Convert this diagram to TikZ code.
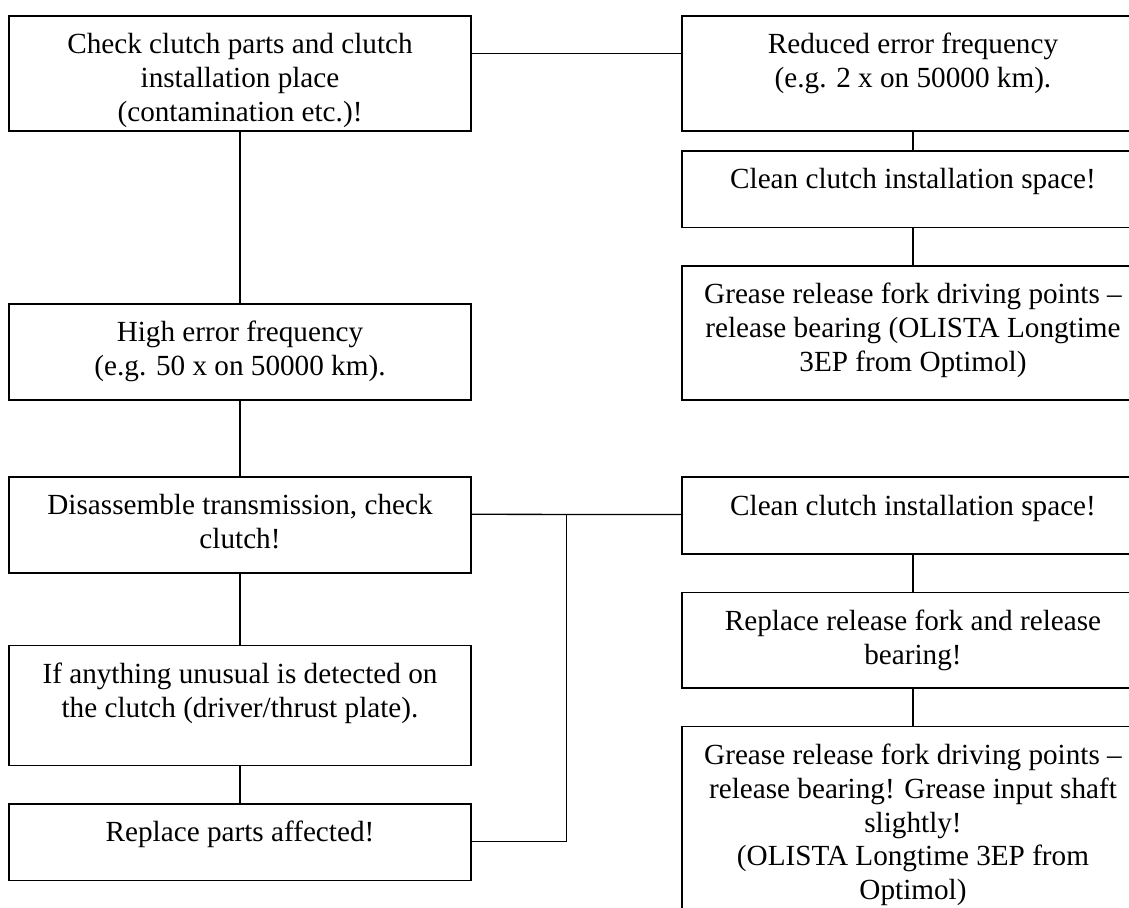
\documentclass[tikz,border=0pt]{standalone}
\usepackage{fontspec}
\setmainfont{Liberation Serif}
\usepackage{xcolor}
\usepackage{tikz}
\usetikzlibrary{positioning}
\definecolor{FInk}{HTML}{000000}
\newcommand{\flowtext}[2]{\parbox[c][#1][t]{231pt}{\centering\rule{0pt}{19pt}#2}}

\begin{document}
\begin{tikzpicture}[x=0.5pt,y=-0.5pt,
  stepbox/.style={draw=FInk, line width=0.85pt, inner sep=0pt, anchor=north,
    font=\fontsize{14.6}{16.9}\selectfont},
  link/.style={draw=FInk, line width=0.65pt}]
  \useasboundingbox (0,0) rectangle (1129,908);

  % left column: diagnosis
  \node[stepbox] (check) at (240,15) {\flowtext{57.5pt}{Check clutch parts and clutch\\ installation place\\ (contamination etc.)!}};
  \node[stepbox] (high) at (240,303) {\flowtext{48.15pt}{High error frequency\\ (e.g. 50 x on 50000 km).}};
  \node[stepbox] (disasm) at (240,476) {\flowtext{48.15pt}{Disassemble transmission, check\\ clutch!}};
  \node[stepbox] (unusual) at (240,644.7) {\flowtext{60pt}{If anything unusual is detected on\\ the clutch (driver/thrust plate).}};
  \node[stepbox] (parts) at (240,803) {\flowtext{38.35pt}{Replace parts affected!}};

  % right column, top: reduced frequency
  \node[stepbox] (reduced) at (913,15) {\flowtext{57.5pt}{Reduced error frequency\\ (e.g. 2 x on 50000 km).}};
  \node[stepbox] (cleanA) at (913,150) {\flowtext{38.35pt}{Clean clutch installation space!}};
  \node[stepbox] (greaseA) at (913,265) {\flowtext{67.15pt}{Grease release fork driving points --\\ release bearing (OLISTA Longtime\\ 3EP from Optimol)}};

  % right column, bottom: after disassembly
  \node[stepbox] (cleanB) at (913,476.3) {\flowtext{38.5pt}{Clean clutch installation space!}};
  \node[stepbox] (fork) at (913,591.7) {\flowtext{47.8pt}{Replace release fork and release\\ bearing!}};
  \node[stepbox] (greaseB) at (913,725.7) {\flowtext{100pt}{Grease release fork driving points --\\ release bearing! Grease input shaft\\ slightly!\\ (OLISTA Longtime 3EP from\\ Optimol)}};

  \coordinate (join) at (566.7,514.3);

  % connectors
  \draw[link] (check.south) -- (high.north);
  \draw[link] (high.south) -- (disasm.north);
  \draw[link] (disasm.south) -- (unusual.north);
  \draw[link] (unusual.south) -- (parts.north);
  \draw[link] ([yshift=-19.15pt]check.north east) -- ([yshift=-19.15pt]reduced.north west);
  \draw[link] (reduced.south) -- (cleanA.north);
  \draw[link] (cleanA.south) -- (greaseA.north);
  \draw[link] ([yshift=-19.15pt]disasm.north east) -- ([yshift=-19.15pt]cleanB.north west);
  \draw[link] ([yshift=-19.15pt]parts.north east) -| (join);
  \draw[link] (cleanB.south) -- (fork.north);
  \draw[link] (fork.south) -- (greaseB.north);
\end{tikzpicture}
\end{document}
